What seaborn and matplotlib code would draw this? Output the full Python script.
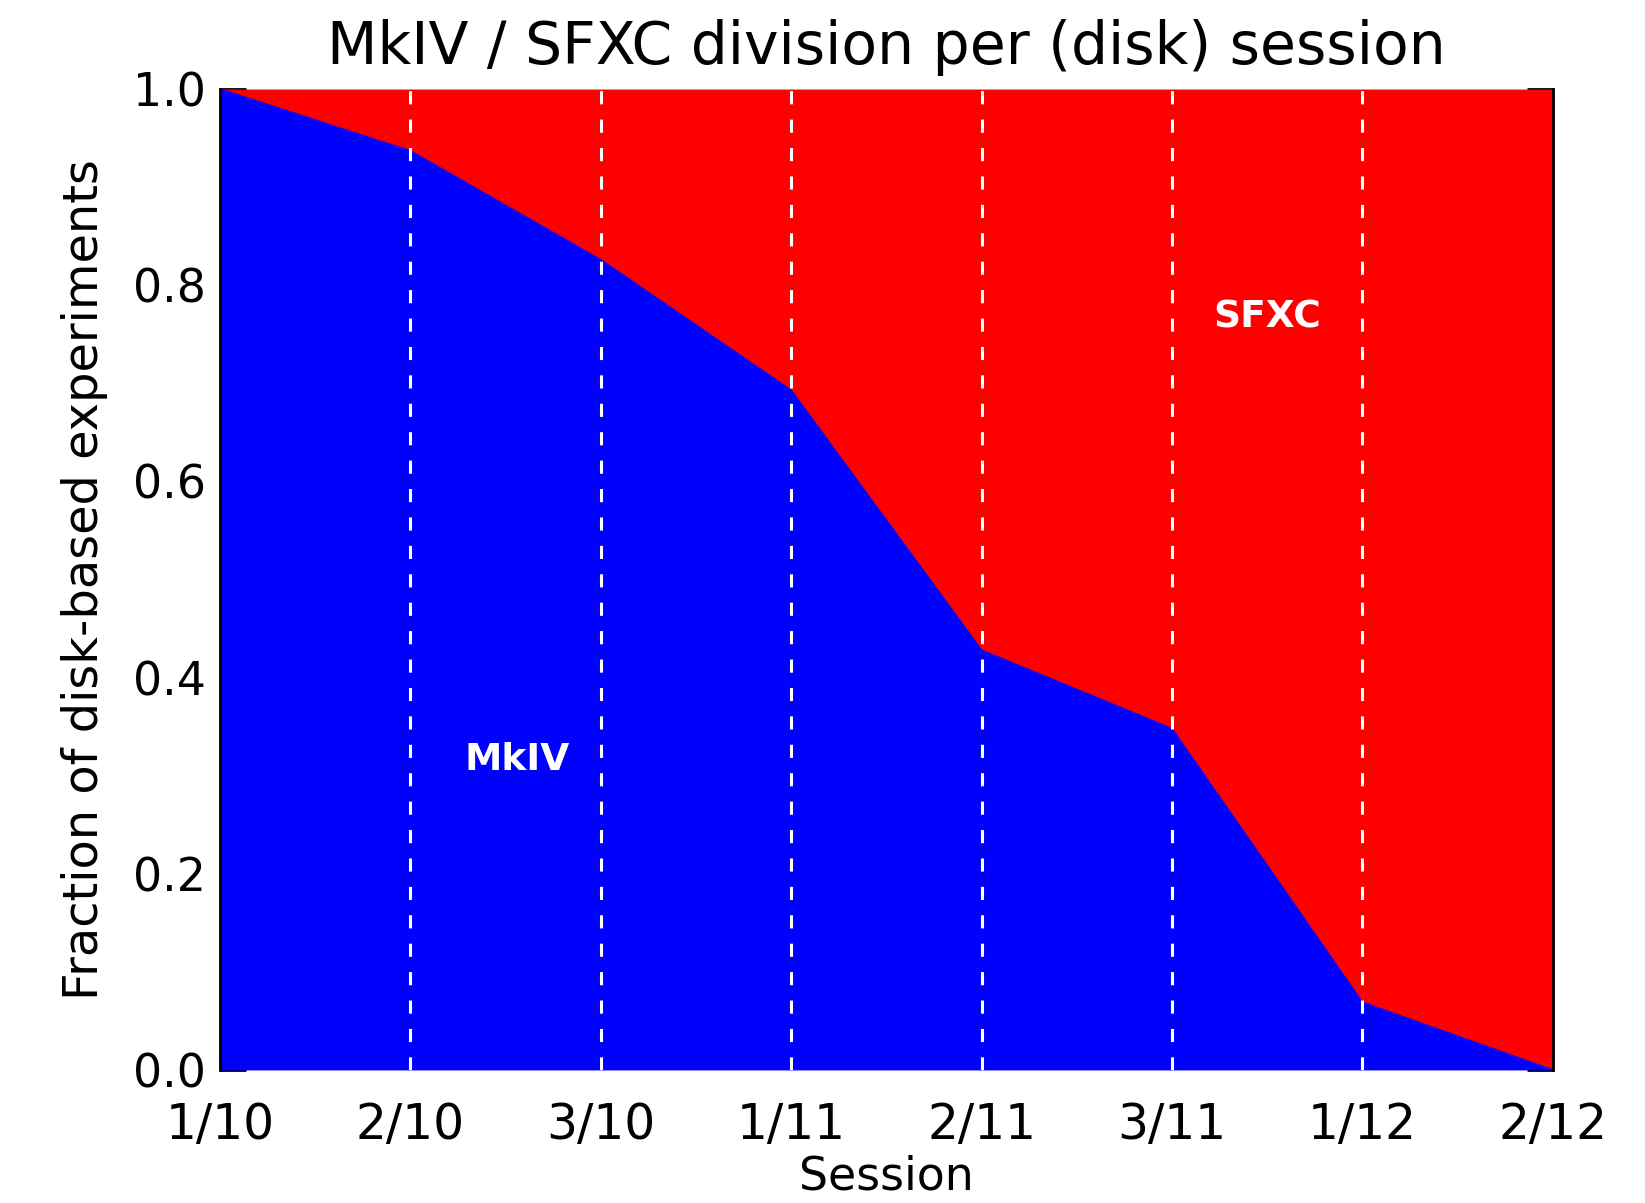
import numpy as np
import pandas as pd
import seaborn as sns
import matplotlib.pyplot as plt

sessions = ['1/10', '2/10', '3/10', '1/11', '2/11', '3/11', '1/12', '2/12']
mkiv_frac = [1.0, 0.937, 0.826, 0.693, 0.428, 0.348, 0.069, 0.0]

data = pd.DataFrame({'pos': np.arange(len(sessions)), 'session': sessions, 'mkiv': mkiv_frac})

sns.set_style('ticks')
plt.rcParams['font.family'] = ['DejaVu Sans']
plt.rcParams['text.color'] = 'black'
plt.rcParams['axes.labelcolor'] = 'black'
plt.rcParams['xtick.color'] = 'black'
plt.rcParams['ytick.color'] = 'black'

fig = plt.figure(figsize=(16.45, 12.03), dpi=100)
ax = fig.add_axes([0.1337, 0.1106, 0.8103, 0.8154])

# SFXC on top (red), MkIV below (blue)
ax.fill_between(data['pos'], data['mkiv'], 1.0, color='#ff0000', lw=0, zorder=1)
ax.fill_between(data['pos'], 0.0, data['mkiv'], color='#0000ff', lw=0, zorder=1)
sns.lineplot(data=data, x='pos', y='mkiv', color='#0000ff', lw=1, ax=ax, zorder=2)

for p in data['pos'][1:-1]:
    ax.axvline(p, color='white', lw=2.2, dashes=(4.3, 5), zorder=3)

ax.text(1.56, 0.316, 'MkIV', color='white', fontsize=27, fontweight='bold', ha='center', va='center')
ax.text(5.50, 0.767, 'SFXC', color='white', fontsize=27, fontweight='bold', ha='center', va='center')

ax.set_xlim(0, len(sessions) - 1)
ax.set_ylim(0, 1)
ax.set_xticks(data['pos'])
ax.set_xticklabels(sessions)
ax.set_yticks(np.arange(0, 1.01, 0.2))
ax.set_yticklabels(['%.1f' % v for v in np.arange(0, 1.01, 0.2)])
ax.set_yticks(np.arange(0, 1.001, 0.05), minor=True)

ax.tick_params(axis='y', which='major', direction='in', length=19, width=2,
               left=True, right=True, labelsize=33, pad=10)
ax.tick_params(axis='y', which='minor', direction='in', length=9.5, width=2,
               left=True, right=True)
ax.tick_params(axis='x', length=0, labelsize=35, pad=22)

for s in ['left', 'right']:
    ax.spines[s].set_linewidth(2)
    ax.spines[s].set_color('black')
    ax.spines[s].set_zorder(4)
for s in ['top', 'bottom']:
    ax.spines[s].set_visible(False)

ax.set_xlabel('Session', fontsize=33, labelpad=4)
ax.set_ylabel('Fraction of disk-based experiments', fontsize=34.5, labelpad=18)
ax.set_title('MkIV / SFXC division per (disk) session', fontsize=42, pad=18)

fig.savefig('out.png', dpi=100)
